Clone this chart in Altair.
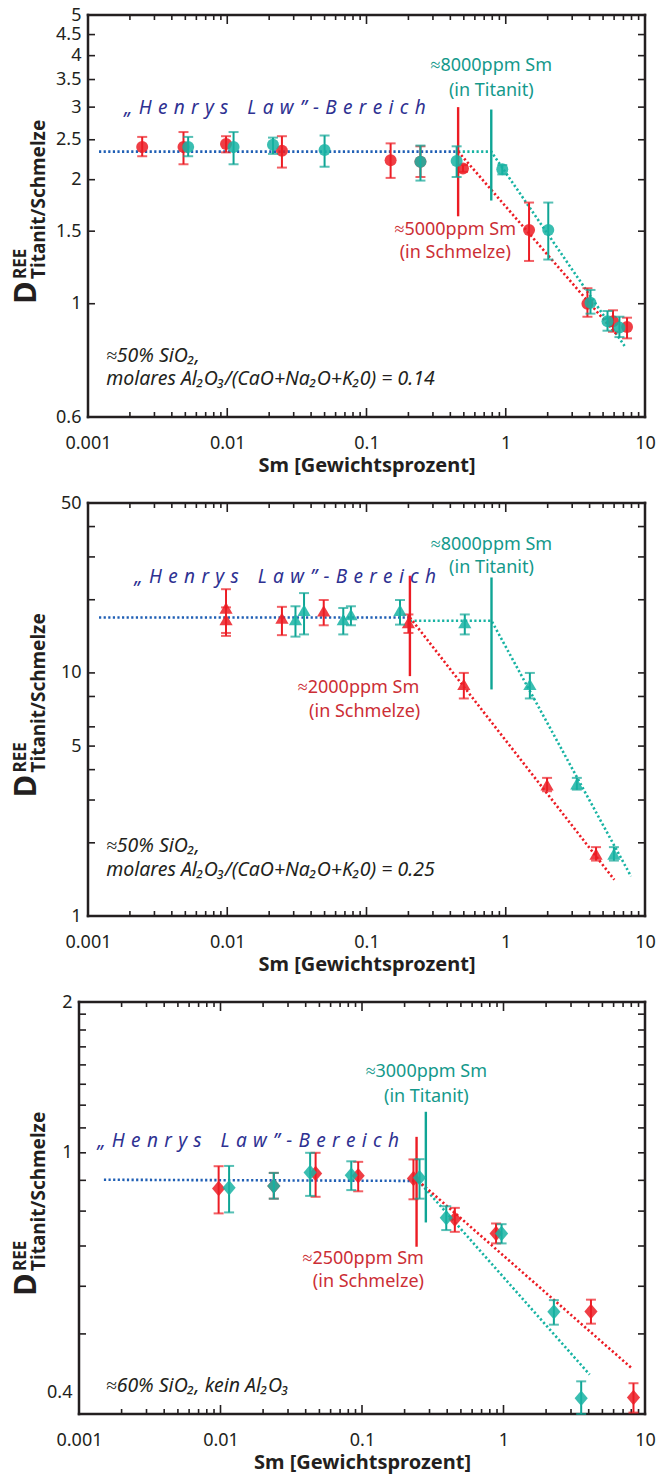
import altair as alt
import pandas as pd

FONT = "Noto Sans"
FRAME = "#231f20"
RED = "#ec1c24"
TEAL = "#17b3a3"
TEAL_BAR = "#0fa595"
BLUE_LINE = "#1f5fb5"
BLUE_TEXT = "#2e3192"
RED_TEXT = "#cc2e35"
TEAL_TEXT = "#14998b"

# ---------------- axis tick values ----------------
X_LABELS = [0.001, 0.01, 0.1, 1, 10]
X_MAJOR_TICKS = [0.01, 0.1, 1]
X_MINOR_TICKS = [0.002, 0.003, 0.004, 0.005, 0.006, 0.007, 0.008, 0.009,
                 0.02, 0.03, 0.04, 0.05, 0.06, 0.07, 0.08, 0.09,
                 0.2, 0.3, 0.4, 0.5, 0.6, 0.7, 0.8, 0.9,
                 2, 3, 4, 5, 6, 7, 8, 9]

# ---------------- panel 1 (circles) ----------------
P1_RED_X = [0.00245, 0.00485, 0.0098, 0.0247, 0.149, 0.244, 0.493, 1.47, 3.86, 5.89, 7.43]
P1_RED_Y = [2.40, 2.40, 2.44, 2.35, 2.23, 2.21, 2.13, 1.51, 1.00, 0.907, 0.878]
P1_RED_LO = [2.28, 2.18, 2.33, 2.14, 2.02, 2.03, 2.09, 1.27, 0.93, 0.855, 0.824]
P1_RED_HI = [2.54, 2.61, 2.55, 2.55, 2.45, 2.41, 2.17, 1.76, 1.09, 0.964, 0.925]
P1_TEAL_X = [0.00524, 0.0111, 0.0213, 0.0500, 0.244, 0.444, 0.944, 2.02, 4.06, 5.38, 6.55]
P1_TEAL_Y = [2.40, 2.40, 2.43, 2.36, 2.21, 2.22, 2.12, 1.51, 1.005, 0.907, 0.875]
P1_TEAL_LO = [2.28, 2.18, 2.31, 2.15, 1.99, 2.03, 2.06, 1.28, 0.946, 0.86, 0.83]
P1_TEAL_HI = [2.54, 2.61, 2.53, 2.56, 2.42, 2.41, 2.17, 1.76, 1.08, 0.96, 0.93]
P1_BLUE_LINE_X = [0.0012, 0.455]
P1_BLUE_LINE_Y = [2.34, 2.34]
P1_TEAL_LINE_X = [0.455, 0.787, 7.13]
P1_TEAL_LINE_Y = [2.34, 2.34, 0.79]
P1_RED_LINE_X = [0.455, 6.3]
P1_RED_LINE_Y = [2.34, 0.84]
P1_RED_VLINE = [0.455, 1.63, 3.0]
P1_TEAL_VLINE = [0.787, 1.78, 2.96]
P1_TEAL_TEXT = [(0.787, 3.78, "≈8000ppm Sm"), (0.787, 3.29, "(in Titanit)")]
P1_RED_TEXT = [(0.434, 1.51, "≈5000ppm Sm"), (0.434, 1.33, "(in Schmelze)")]
P1_HENRY_POS = (0.00182, 2.99)
P1_NOTE = [(0.00135, 0.746, "≈50% SiO₂,"), (0.00135, 0.655, "molares Al₂O₃/(CaO+Na₂O+K₂0) = 0.14")]
P1_Y_DOMAIN = [0.531, 5.02]
P1_Y_LABELS = [0.531, 1, 1.5, 2, 2.5, 3, 3.5, 4, 4.5, 5]
P1_Y_TICKS = [1, 1.5, 2, 2.5, 3, 3.5, 4, 4.5]

# ---------------- panel 2 (triangles) ----------------
P2_RED_X = [0.0098, 0.0098, 0.0247, 0.0493, 0.200, 0.50, 1.98, 4.45]
P2_RED_Y = [18.5, 16.6, 16.8, 18.0, 16.1, 8.97, 3.47, 1.80]
P2_RED_LO = [14.6, 14.2, 14.3, 15.7, 14.6, 7.85, 3.26, 1.69]
P2_RED_HI = [22.1, 18.6, 18.7, 19.95, 17.4, 10.0, 3.70, 1.92]
P2_TEAL_X = [0.0309, 0.0356, 0.0681, 0.0773, 0.174, 0.508, 1.49, 3.24, 5.98]
P2_TEAL_Y = [16.6, 18.1, 16.6, 17.4, 18.1, 16.1, 8.97, 3.50, 1.80]
P2_TEAL_LO = [14.1, 14.4, 14.4, 15.7, 15.8, 14.4, 7.85, 3.31, 1.69]
P2_TEAL_HI = [18.8, 21.3, 18.5, 18.8, 19.95, 17.4, 10.0, 3.70, 1.92]
P2_BLUE_LINE_X = [0.0012, 0.205]
P2_BLUE_LINE_Y = [16.9, 16.9]
P2_TEAL_LINE_X = [0.205, 0.79, 7.93]
P2_TEAL_LINE_Y = [16.4, 16.4, 1.457]
P2_RED_LINE_X = [0.205, 6.02]
P2_RED_LINE_Y = [16.9, 1.41]
P2_RED_VLINE = [0.205, 9.7, 25.1]
P2_TEAL_VLINE = [0.79, 8.55, 24.7]
P2_TEAL_TEXT = [(0.79, 33.6, "≈8000ppm Sm"), (0.79, 26.9, "(in Titanit)")]
P2_RED_TEXT = [(0.0877, 8.69, "≈2000ppm Sm"), (0.097, 6.92, "(in Schmelze)")]
P2_HENRY_POS = (0.00216, 24.8)
P2_NOTE = [(0.00135, 1.94, "≈50% SiO₂,"), (0.00135, 1.55, "molares Al₂O₃/(CaO+Na₂O+K₂0) = 0.25")]
P2_Y_DOMAIN = [1, 50]
P2_Y_LABELS = [1, 5, 10, 50]
P2_Y_TICKS = [2, 3, 4, 5, 6, 8, 10, 20, 30, 40]

# ---------------- panel 3 (diamonds) ----------------
P3_RED_X = [0.0097, 0.0238, 0.047, 0.094, 0.231, 0.453, 0.886, 4.15, 8.29]
P3_RED_Y = [0.872, 0.881, 0.924, 0.916, 0.906, 0.776, 0.734, 0.545, 0.392]
P3_RED_LO = [0.793, 0.839, 0.845, 0.863, 0.837, 0.739, 0.707, 0.520, 0.370]
P3_RED_HI = [0.950, 0.926, 1.00, 0.966, 0.975, 0.810, 0.763, 0.570, 0.414]
P3_TEAL_X = [0.0115, 0.0238, 0.043, 0.084, 0.255, 0.394, 0.969, 2.27, 3.54]
P3_TEAL_Y = [0.875, 0.881, 0.927, 0.918, 0.909, 0.780, 0.734, 0.544, 0.391]
P3_TEAL_LO = [0.796, 0.839, 0.848, 0.867, 0.839, 0.744, 0.707, 0.518, 0.368]
P3_TEAL_HI = [0.951, 0.926, 1.00, 0.968, 0.976, 0.815, 0.761, 0.569, 0.417]
P3_BLUE_LINE_X = [0.0015, 0.25]
P3_BLUE_LINE_Y = [0.902, 0.898]
P3_TEAL_LINE_X = [0.25, 4.06]
P3_TEAL_LINE_Y = [0.898, 0.428]
P3_RED_LINE_X = [0.25, 8.02]
P3_RED_LINE_Y = [0.898, 0.439]
P3_RED_VLINE = [0.243, 0.698, 1.063]
P3_TEAL_VLINE = [0.2826, 0.766, 1.17]
P3_TEAL_TEXT = [(0.285, 1.36, "≈3000ppm Sm"), (0.285, 1.239, "(in Titanit)")]
P3_RED_TEXT = [(0.102, 0.667, "≈2500ppm Sm"), (0.111, 0.610, "(in Schmelze)")]
P3_HENRY_POS = (0.00135, 1.045)
P3_NOTE = [(0.00155, 0.410, "≈60% SiO₂, kein Al₂O₃")]
P3_Y_DOMAIN = [0.368, 1.781]
P3_Y_LABELS = [0.4, 1, 1.781]
P3_Y_TICKS = [0.5, 0.6, 0.7, 0.8, 0.9, 1, 1.1, 1.2, 1.3, 1.4, 1.5, 1.6, 1.7]

SP = "\u2004"
HENRY = "„" + SP + SP.join("Henrys") + SP * 3 + SP.join("Law") + SP + "”" + SP + "-" + SP + SP.join("Bereich")

DIAMOND = "M-0.85,0L0,-1L0.85,0L0,1Z"

W = 566  # common cell width; panels 1-2 start their frame 9 px further right
TDX = -43  # y-title baseline offset (same absolute place for all panels)


def panel(red, teal, blue_line, teal_line, red_line, red_vl, teal_vl, teal_txt, red_txt,
          henry_pos, note, ydom, ylabels, ylabel_expr, yticks, x0, h, shape, size):
    w = W
    tdx = TDX
    xs = alt.Scale(type="log", domain=[0.001, 10], range=[x0, w])
    ys = alt.Scale(type="log", domain=ydom)
    xaxis = alt.Axis(values=X_LABELS, format="~g", ticks=False, tickSize=0, domain=False, grid=False,
                     labelFlush=False, labelOverlap=False, labelPadding=17, titlePadding=3,
                     titleX=(x0 + w) / 2, title="Sm [Gewichtsprozent]")
    yaxis = alt.Axis(values=ylabels, labelExpr=ylabel_expr, ticks=False, tickSize=0, domain=False, grid=False,
                     labelFlush=False, labelOverlap=False, labelPadding=7, offset=-x0, title=None)

    def X(f):
        return alt.X(f, type="quantitative", scale=xs, axis=xaxis, title="Sm [Gewichtsprozent]")

    def Y(f):
        return alt.Y(f, type="quantitative", scale=ys, axis=yaxis, title=None)

    layers = []
    one = pd.DataFrame({"k": [0]})
    # frame
    fr = dict(color=FRAME, strokeWidth=2.5, strokeCap="square")
    layers.append(alt.Chart(one).mark_rule(**fr).encode(x=alt.value(x0), y=alt.value(0), y2=alt.value(h)))
    layers.append(alt.Chart(one).mark_rule(**fr).encode(x=alt.value(w), y=alt.value(0), y2=alt.value(h)))
    layers.append(alt.Chart(one).mark_rule(**fr).encode(x=alt.value(x0), x2=alt.value(w), y=alt.value(0)))
    layers.append(alt.Chart(one).mark_rule(**fr).encode(x=alt.value(x0), x2=alt.value(w), y=alt.value(h)))
    # inward ticks
    xmaj = pd.DataFrame({"v": X_MAJOR_TICKS})
    xmin = pd.DataFrame({"v": X_MINOR_TICKS})
    yt = pd.DataFrame({"v": yticks})
    tk = dict(color=FRAME, strokeWidth=1.6)
    layers.append(alt.Chart(xmaj).mark_rule(**tk).encode(x=X("v"), y=alt.value(h), y2=alt.value(h - 9)))
    layers.append(alt.Chart(xmaj).mark_rule(**tk).encode(x=X("v"), y=alt.value(0), y2=alt.value(9)))
    layers.append(alt.Chart(xmin).mark_rule(**tk).encode(x=X("v"), y=alt.value(h), y2=alt.value(h - 5)))
    layers.append(alt.Chart(xmin).mark_rule(**tk).encode(x=X("v"), y=alt.value(0), y2=alt.value(5)))
    layers.append(alt.Chart(yt).mark_rule(**tk).encode(y=Y("v"), x=alt.value(x0), x2=alt.value(x0 + 7)))
    layers.append(alt.Chart(yt).mark_rule(**tk).encode(y=Y("v"), x=alt.value(w), x2=alt.value(w - 7)))

    # dotted trend lines
    for (lx, ly), col in ((blue_line, BLUE_LINE), (teal_line, TEAL), (red_line, RED)):
        d = pd.DataFrame({"x": lx, "y": ly, "o": list(range(len(lx)))})
        layers.append(alt.Chart(d).mark_line(color=col, strokeWidth=2.6, strokeDash=[2.2, 2.4]).encode(
            x=X("x"), y=Y("y"), order="o:Q"))

    # vertical markers
    for vl, col in ((red_vl, RED), (teal_vl, TEAL_BAR)):
        d = pd.DataFrame({"x": [vl[0]], "y1": [vl[1]], "y2": [vl[2]]})
        layers.append(alt.Chart(d).mark_rule(color=col, strokeWidth=2.4).encode(
            x=X("x"), y=Y("y1"), y2="y2:Q"))

    # data points with error bars
    for (sx, sy, slo, shi), col, bar in ((red, RED, RED), (teal, TEAL, TEAL_BAR)):
        d = pd.DataFrame({"x": sx, "y": sy, "lo": slo, "hi": shi})
        layers.append(alt.Chart(d).mark_rule(color=bar, strokeWidth=2).encode(x=X("x"), y=Y("lo"), y2="hi:Q"))
        layers.append(alt.Chart(d).mark_tick(color=bar, orient="horizontal", size=10, thickness=2).encode(x=X("x"), y=Y("lo")))
        layers.append(alt.Chart(d).mark_tick(color=bar, orient="horizontal", size=10, thickness=2).encode(x=X("x"), y=Y("hi")))
        layers.append(alt.Chart(d).mark_point(shape=shape, size=size, filled=True, fill=col,
                                              fillOpacity=0.85, strokeOpacity=0).encode(x=X("x"), y=Y("y")))

    # annotation texts
    for txts, col in ((teal_txt, TEAL_TEXT), (red_txt, RED_TEXT)):
        d = pd.DataFrame({"x": [t[0] for t in txts], "y": [t[1] for t in txts], "t": [t[2] for t in txts]})
        layers.append(alt.Chart(d).mark_text(font=FONT, fontSize=18, color=col, align="center",
                                             baseline="middle").encode(x=X("x"), y=Y("y"), text="t:N"))
    d = pd.DataFrame({"x": [henry_pos[0]], "y": [henry_pos[1]], "t": [HENRY]})
    layers.append(alt.Chart(d).mark_text(font=FONT, fontSize=19, fontStyle="italic", color=BLUE_TEXT,
                                         align="left", baseline="middle").encode(x=X("x"), y=Y("y"), text="t:N"))
    d = pd.DataFrame({"x": [t[0] for t in note], "y": [t[1] for t in note], "t": [t[2] for t in note]})
    layers.append(alt.Chart(d).mark_text(font=FONT, fontSize=19.5, fontStyle="italic", color=FRAME,
                                         align="left", baseline="middle").encode(x=X("x"), y=Y("y"), text="t:N"))

    # y-axis title: D^REE_Titanit/Schmelze
    base_y = h / 2 + 88
    ttl = [("D", 31, tdx, base_y), ("REE", 17, tdx - 10, base_y - 25), ("Titanit/Schmelze", 19, tdx + 9, base_y - 25)]
    for t, fs, xx, yy in ttl:
        d = pd.DataFrame({"t": [t]})
        layers.append(alt.Chart(d).mark_text(font=FONT, fontSize=fs, fontWeight="bold", color=FRAME, angle=270,
                                             align="left", baseline="alphabetic").encode(
            x=alt.value(xx), y=alt.value(yy), text="t:N"))

    return alt.layer(*layers).properties(width=w, height=h)


p1 = panel((P1_RED_X, P1_RED_Y, P1_RED_LO, P1_RED_HI), (P1_TEAL_X, P1_TEAL_Y, P1_TEAL_LO, P1_TEAL_HI),
           (P1_BLUE_LINE_X, P1_BLUE_LINE_Y), (P1_TEAL_LINE_X, P1_TEAL_LINE_Y), (P1_RED_LINE_X, P1_RED_LINE_Y),
           P1_RED_VLINE, P1_TEAL_VLINE, P1_TEAL_TEXT, P1_RED_TEXT, P1_HENRY_POS, P1_NOTE,
           P1_Y_DOMAIN, P1_Y_LABELS, "datum.value < 0.6 ? '0.6' : format(datum.value, '~g')",
           P1_Y_TICKS, 9, 402, "circle", 144)
p2 = panel((P2_RED_X, P2_RED_Y, P2_RED_LO, P2_RED_HI), (P2_TEAL_X, P2_TEAL_Y, P2_TEAL_LO, P2_TEAL_HI),
           (P2_BLUE_LINE_X, P2_BLUE_LINE_Y), (P2_TEAL_LINE_X, P2_TEAL_LINE_Y), (P2_RED_LINE_X, P2_RED_LINE_Y),
           P2_RED_VLINE, P2_TEAL_VLINE, P2_TEAL_TEXT, P2_RED_TEXT, P2_HENRY_POS, P2_NOTE,
           P2_Y_DOMAIN, P2_Y_LABELS, "format(datum.value, '~g')",
           P2_Y_TICKS, 9, 413, "triangle-up", 175)
p3 = panel((P3_RED_X, P3_RED_Y, P3_RED_LO, P3_RED_HI), (P3_TEAL_X, P3_TEAL_Y, P3_TEAL_LO, P3_TEAL_HI),
           (P3_BLUE_LINE_X, P3_BLUE_LINE_Y), (P3_TEAL_LINE_X, P3_TEAL_LINE_Y), (P3_RED_LINE_X, P3_RED_LINE_Y),
           P3_RED_VLINE, P3_TEAL_VLINE, P3_TEAL_TEXT, P3_RED_TEXT, P3_HENRY_POS, P3_NOTE,
           P3_Y_DOMAIN, P3_Y_LABELS, "datum.value > 1.75 ? '2' : format(datum.value, '~g')",
           P3_Y_TICKS, 0, 412, DIAMOND, 240)

chart = alt.concat(p1, p2, p3, columns=1, spacing=19, align="none").properties(
    padding={"left": 11, "top": 6, "right": 5, "bottom": 5}
).configure_view(strokeWidth=0).configure_axis(
    labelFont=FONT, labelFontSize=18, labelColor=FRAME,
    titleFont=FONT, titleFontSize=20, titleFontWeight="bold", titleColor=FRAME
)

chart.save("out.html", embed_options={"renderer": "svg", "actions": False})
